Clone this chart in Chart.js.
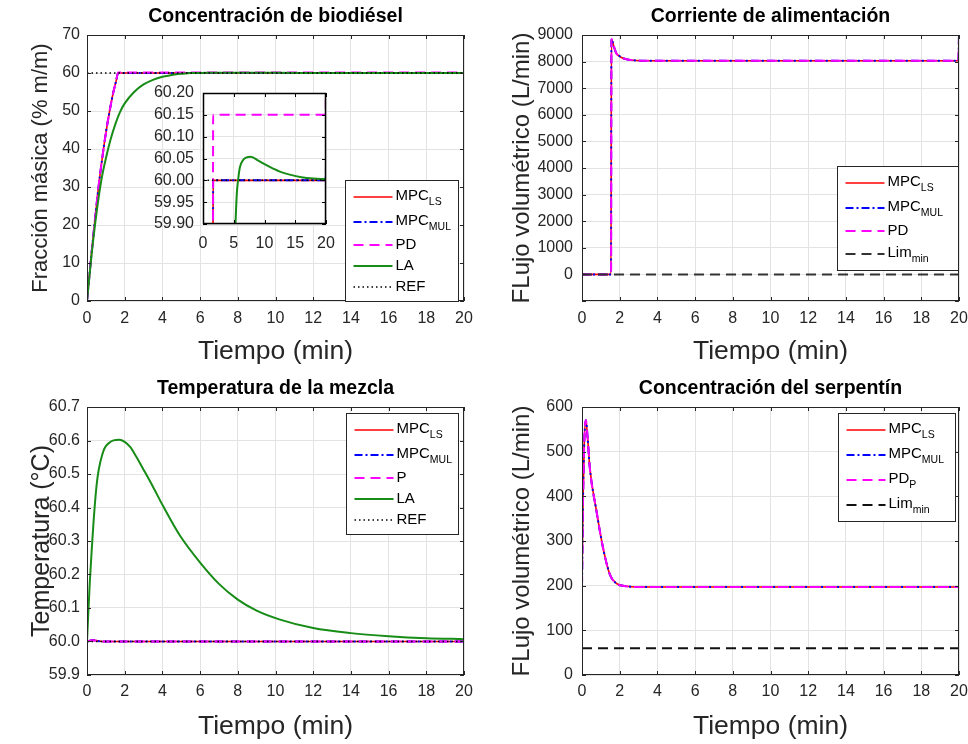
<!DOCTYPE html>
<html><head><meta charset="utf-8">
<script src="https://cdn.jsdelivr.net/npm/chart.js@4.4.0/dist/chart.umd.min.js"></script>
<style>
html,body{margin:0;padding:0;background:#fff;}
#wrap{position:relative;width:968px;height:744px;overflow:hidden;background:#fff;}
canvas{position:absolute;}
</style></head><body>
<div id="wrap">
<canvas id="c1" width="484" height="372" style="left:0;top:0"></canvas>
<canvas id="c2" width="484" height="372" style="left:484px;top:0"></canvas>
<canvas id="c3" width="484" height="372" style="left:0;top:372px"></canvas>
<canvas id="c4" width="484" height="372" style="left:484px;top:372px"></canvas>
<canvas id="c1i" width="210" height="180" style="left:130px;top:80px"></canvas>
</div>
<script>
// ---------------- DATA ----------------
// Concentración de biodiésel (% m/m)
const tBio   = [0, 0.2, 0.4, 0.6, 0.8, 1.0, 1.2, 1.4, 1.55, 1.65, 2, 5, 10, 15, 19.95, 20];
const bioMPC = [0, 10.5, 20.3, 29.5, 37.3, 44.2, 50, 55, 58, 60, 60, 60, 60, 60, 60, 60.035];
const bioPD  = [0, 10.5, 20.3, 29.5, 37.3, 44.2, 50, 55, 58, 60.15, 60.15, 60.15, 60.15, 60.15, 60.15, 60.3];
const tBioLA = [0, 0.25, 0.5, 0.75, 1.0, 1.25, 1.5, 1.75, 2.0, 2.5, 3.0, 3.5, 4.0, 4.5, 5.0, 5.28, 5.5, 5.7, 6.0, 6.5, 7.0, 7.77, 9, 10, 11.4, 12.5, 14.1, 16, 17.9, 20];
const bioLA  = [0, 12.5, 23, 31.5, 37.5, 42.5, 46.5, 49.7, 52, 55, 57, 58.2, 59.0, 59.5, 59.8, 59.9, 59.97, 60.0, 60.03, 60.046, 60.052, 60.054, 60.045, 60.037, 60.027, 60.02, 60.013, 60.007, 60.004, 60.003];
const tRef = [0, 20];
const bioREF = [60, 60];

// Corriente de alimentación (L/min)
const tFeed   = [0, 1.54, 1.56, 1.7, 1.82, 2.0, 2.18, 2.5, 2.9, 3.5, 5, 10, 15, 19.97, 20];
const feedMPC = [0, 0, 8850, 8550, 8314, 8200, 8127, 8070, 8040, 8030, 8030, 8030, 8030, 8030, 9000];
const feedLim = [0, 0];

// Temperatura de la mezcla (°C)
const tTempCtl = [0, 0.3, 0.8, 20];
const tempCtl  = [60, 60.004, 60, 60];
const tTempLA  = [0, 0.14, 0.5, 0.85, 1.2, 1.7, 2.0, 2.3, 2.6, 3.0, 3.5, 4.03, 4.92, 5.98, 7, 8, 9, 10.2, 12, 14, 16, 18, 20];
const tempLA   = [60, 60.167, 60.462, 60.565, 60.594, 60.602, 60.596, 60.58, 60.553, 60.513, 60.462, 60.405, 60.317, 60.237, 60.172, 60.125, 60.092, 60.066, 60.04, 60.025, 60.016, 60.01, 60.007];
const tempREF  = [60, 60];

// Concentración del serpentín (L/min)
const tCoil   = [0, 0.05, 0.12, 0.2, 0.3, 0.41, 0.76, 1.11, 1.47, 1.82, 2.18, 3, 5, 10, 15, 20];
const coilMPC = [200, 380, 520, 571, 530, 466, 369, 286, 226, 205, 200, 197, 197, 197, 197, 197];
const coilLim = [60, 60];

// ---------------- STYLE ----------------
const FONT = "'Liberation Sans', Arial, Helvetica, sans-serif";
Chart.defaults.font.family = FONT;
Chart.defaults.color = '#262626';
const ST = {
  ls:  {color: '#ff0000', width: 1.6, dash: []},
  mul: {color: '#0000ff', width: 2,   dash: [8, 3, 2, 3]},
  pd:  {color: '#ff00ff', width: 2,   dash: [10, 6]},
  la:  {color: '#178c17', width: 2,   dash: []},
  ref: {color: '#000000', width: 1.5, dash: [1.5, 3]},
  lim: {color: '#333333', width: 2,   dash: [10, 6]},
  lim2: {color: '#111111', width: 2,  dash: [10, 6]}
};
const pts = (xs, ys) => xs.map((x, i) => ({x: x, y: ys[i]}));
function ds(label, xs, ys, st, order) {
  return {label, data: pts(xs, ys), borderColor: st.color, borderWidth: st.width,
    borderDash: st.dash, pointRadius: 0, fill: false, cubicInterpolationMode: 'monotone',
    order, borderCapStyle: 'butt', borderJoinStyle: 'round'};
}

const LEGENDS = {
  c1: {dx: 258, dy: 145, w: 113, items: [
    {m: 'MPC', s: 'LS', st: ST.ls}, {m: 'MPC', s: 'MUL', st: ST.mul}, {m: 'PD', st: ST.pd},
    {m: 'LA', st: ST.la}, {m: 'REF', st: ST.ref}]},
  c2: {dx: 255, dy: 131, w: 121, items: [
    {m: 'MPC', s: 'LS', st: ST.ls}, {m: 'MPC', s: 'MUL', st: ST.mul}, {m: 'PD', st: ST.pd},
    {m: 'Lim', s: 'min', st: ST.lim}]},
  c3: {dx: 259, dy: 6, w: 112, items: [
    {m: 'MPC', s: 'LS', st: ST.ls}, {m: 'MPC', s: 'MUL', st: ST.mul}, {m: 'P', st: ST.pd},
    {m: 'LA', st: ST.la}, {m: 'REF', st: ST.ref}]},
  c4: {dx: 256, dy: 6, w: 117, items: [
    {m: 'MPC', s: 'LS', st: ST.ls}, {m: 'MPC', s: 'MUL', st: ST.mul}, {m: 'PD', s: 'P', st: ST.pd},
    {m: 'Lim', s: 'min', st: ST.lim2}]}
};

const matlab = {
  id: 'matlab',
  beforeDraw(chart) {
    if (chart.canvas.id === 'c1i') {
      const {ctx, chartArea: a} = chart;
      ctx.save(); ctx.fillStyle = '#fff';
      ctx.fillRect(a.left, a.top, a.right - a.left, a.bottom - a.top); ctx.restore();
    }
  },
  afterDraw(chart) {
    const {ctx, chartArea: a, scales} = chart;
    const inset = chart.canvas.id === 'c1i';
    ctx.save();
    ctx.strokeStyle = inset ? '#000' : '#262626';
    ctx.lineWidth = 1;
    const tl = 4;
    ctx.beginPath();
    scales.x.ticks.forEach(t => {
      const px = Math.round(scales.x.getPixelForValue(t.value)) + 0.5;
      ctx.moveTo(px, a.bottom); ctx.lineTo(px, a.bottom - tl);
      ctx.moveTo(px, a.top); ctx.lineTo(px, a.top + tl);
    });
    scales.y.ticks.forEach(t => {
      const py = Math.round(scales.y.getPixelForValue(t.value)) + 0.5;
      ctx.moveTo(a.left, py); ctx.lineTo(a.left + tl, py);
      ctx.moveTo(a.right, py); ctx.lineTo(a.right - tl, py);
    });
    ctx.stroke();
    ctx.lineWidth = inset ? 1.5 : 1;
    ctx.strokeRect(Math.round(a.left) + 0.5, Math.round(a.top) + 0.5,
      Math.round(a.right - a.left) - 1, Math.round(a.bottom - a.top) - 1);
    const L = LEGENDS[chart.canvas.id];
    if (L) {
      const left = Math.round(a.left + L.dx) + 0.5, top = Math.round(a.top + L.dy) + 0.5;
      const h = 8 + L.items.reduce((s, it) => s + (it.s ? 25 : 21), 0);
      ctx.fillStyle = '#fff'; ctx.fillRect(left, top, L.w, h);
      ctx.strokeStyle = '#262626'; ctx.lineWidth = 1; ctx.setLineDash([]);
      ctx.strokeRect(left, top, L.w, h);
      let y = top + 4;
      L.items.forEach(it => {
        const rh = it.s ? 25 : 21, cy = y + rh / 2;
        ctx.setLineDash(it.st.dash); ctx.strokeStyle = it.st.color; ctx.lineWidth = it.st.width;
        ctx.beginPath(); ctx.moveTo(left + 8, cy); ctx.lineTo(left + 47, cy); ctx.stroke();
        ctx.setLineDash([]);
        ctx.fillStyle = '#000'; ctx.textAlign = 'left'; ctx.textBaseline = 'middle';
        ctx.font = '15px ' + FONT;
        const ty = it.s ? cy - 1.5 : cy;
        ctx.fillText(it.m, left + 50, ty);
        if (it.s) {
          const w = ctx.measureText(it.m).width;
          ctx.font = '10.5px ' + FONT;
          ctx.fillText(it.s, left + 50 + w, ty + 6.5);
        }
        y += rh;
      });
    }
    ctx.restore();
  }
};

function makeChart(id, o) {
  const xFmt = v => String(v);
  return new Chart(document.getElementById(id), {
    type: 'line',
    data: {datasets: o.datasets},
    plugins: [matlab],
    options: {
      responsive: false, animation: false, events: [],
      layout: {padding: o.pad},
      plugins: {
        legend: {display: false}, tooltip: {enabled: false},
        title: o.title ? {display: true, text: o.title, fullSize: false, color: '#000',
          font: {size: 19.5, weight: 'bold', lineHeight: '22px'}, padding: {top: 6, bottom: 7}} : {display: false}
      },
      scales: {
        x: {
          type: 'linear', min: 0, max: 20,
          ticks: {stepSize: o.xStep || 2, autoSkip: false, maxRotation: 0, padding: o.xPad,
            font: {size: 16}, color: '#262626', callback: xFmt},
          grid: {color: '#e3e3e3', drawTicks: false}, border: {display: false},
          title: o.xTitle ? {display: true, text: o.xTitle, font: {size: 26.5, lineHeight: 1.2}, padding: 0, color: '#262626'} : {display: false},
          afterFit: s => { s.height = o.xH; s.paddingLeft = 0; s.paddingRight = 0; }
        },
        y: {
          type: 'linear', min: o.yMin, max: o.yMax,
          ticks: {stepSize: o.yStep, autoSkip: false, padding: o.yPad, font: {size: 16},
            color: '#262626', callback: o.yFmt},
          grid: {color: '#e3e3e3', drawTicks: false}, border: {display: false},
          title: o.yTitle ? {display: true, text: o.yTitle, font: {size: o.yTS || 24, lineHeight: 1.2}, padding: 0, color: '#262626'} : {display: false},
          afterFit: s => { s.width = o.yW; s.paddingTop = 0; s.paddingBottom = 0; }
        }
      }
    }
  });
}

// Chart 1
makeChart('c1', {
  title: 'Concentración de biodiésel', xTitle: 'Tiempo (min)', yTitle: 'Fracción másica (% m/m)', yTS: 22,
  pad: {left: 28, right: 20, top: 0, bottom: 4}, yW: 59, xH: 67, xPad: 8, yPad: 7,
  yMin: 0, yMax: 70, yStep: 10, yFmt: v => String(v),
  datasets: [
    ds('MPC_LS', tBio, bioMPC, ST.ls, 5), ds('MPC_MUL', tBio, bioMPC, ST.mul, 4),
    ds('PD', tBio, bioPD, ST.pd, 3), ds('LA', tBioLA, bioLA, ST.la, 2), ds('REF', tRef, bioREF, ST.ref, 1)]
});
// Inset
makeChart('c1i', {
  pad: {left: 0, right: 14, top: 13, bottom: 0}, yW: 73, xH: 36, xPad: 10, yPad: 9, xStep: 5,
  yMin: 59.9, yMax: 60.2, yStep: 0.05, yFmt: v => v.toFixed(2),
  datasets: [
    ds('MPC_LS', tBio, bioMPC, ST.ls, 5), ds('MPC_MUL', tBio, bioMPC, ST.mul, 4),
    ds('PD', tBio, bioPD, ST.pd, 3), ds('LA', tBioLA, bioLA, ST.la, 2), ds('REF', tRef, bioREF, ST.ref, 1)]
});
// Chart 2
makeChart('c2', {
  title: 'Corriente de alimentación', xTitle: 'Tiempo (min)', yTitle: 'FLujo volumétrico (L/min)', yTS: 24,
  pad: {left: 24, right: 9, top: 0, bottom: 4}, yW: 74, xH: 67, xPad: 8, yPad: 9,
  yMin: -1000, yMax: 9000, yStep: 1000, yFmt: v => v < 0 ? '' : String(v),
  datasets: [
    ds('MPC_LS', tFeed, feedMPC, ST.ls, 5), ds('MPC_MUL', tFeed, feedMPC, ST.mul, 4),
    ds('PD', tFeed, feedMPC, ST.pd, 3), ds('Lim_min', tRef, feedLim, ST.lim, 1)]
});
// Chart 3
makeChart('c3', {
  title: 'Temperatura de la mezcla', xTitle: 'Tiempo (min)', yTitle: 'Temperatura (°C)', yTS: 25,
  pad: {left: 27, right: 20, top: 0, bottom: 1}, yW: 60, xH: 68, xPad: 7, yPad: 7,
  yMin: 59.9, yMax: 60.7, yStep: 0.1, yFmt: v => v.toFixed(1),
  datasets: [
    ds('MPC_LS', tTempCtl, tempCtl, ST.ls, 5), ds('MPC_MUL', tTempCtl, tempCtl, ST.mul, 4),
    ds('P', tTempCtl, tempCtl, ST.pd, 3), ds('LA', tTempLA, tempLA, ST.la, 2), ds('REF', tRef, tempREF, ST.ref, 1)]
});
// Chart 4
makeChart('c4', {
  title: 'Concentración del serpentín', xTitle: 'Tiempo (min)', yTitle: 'FLujo volumétrico (L/min)', yTS: 24,
  pad: {left: 24, right: 9, top: 0, bottom: 1}, yW: 74, xH: 68, xPad: 7, yPad: 9,
  yMin: 0, yMax: 600, yStep: 100, yFmt: v => String(v),
  datasets: [
    ds('MPC_LS', tCoil, coilMPC, ST.ls, 5), ds('MPC_MUL', tCoil, coilMPC, ST.mul, 4),
    ds('PD_P', tCoil, coilMPC, ST.pd, 3), ds('Lim_min', tRef, coilLim, ST.lim2, 1)]
});
</script>
</body></html>
